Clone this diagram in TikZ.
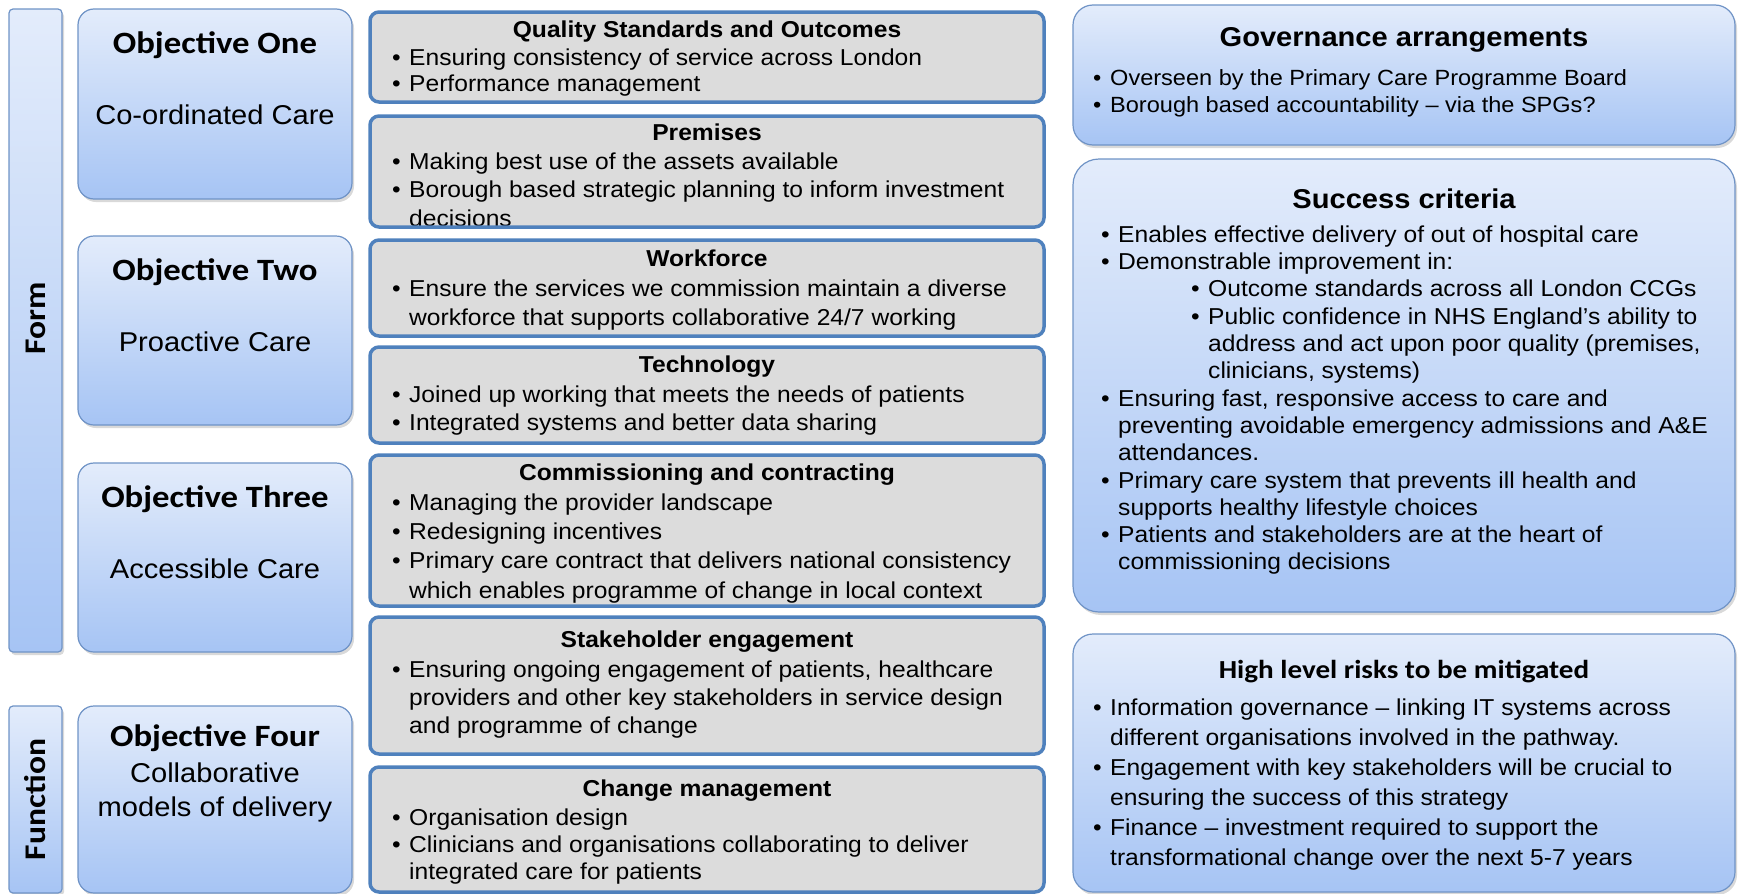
\documentclass[tikz,border=0pt]{standalone}
\usepackage{fontspec}
\setmainfont{Liberation Sans}[FakeStretch=1.07]
\newfontfamily\calfont{Carlito}[FakeStretch=1.12]
\usepackage{xcolor}
\usepackage{tikz}
\usetikzlibrary{positioning,calc,shadows}
\definecolor{gradtop}{HTML}{E3ECFB}
\definecolor{gradbot}{HTML}{A6C4F4}
\definecolor{gradedge}{HTML}{6F93C6}
\definecolor{topicfill}{HTML}{DCDCDC}
\definecolor{topicedge}{HTML}{4F81BD}
\newcommand{\itemdot}{\makebox[17pt][l]{\textbullet}}
\newcommand{\itemgap}{\hspace*{17pt}}
\newcommand{\subgap}{\hspace*{90pt}}
\tikzset{
  sidebar/.style={draw=gradedge, line width=1.2pt, rounded corners=4pt,
    top color=gradtop, bottom color=gradbot, anchor=north west,
    inner sep=0pt, outer sep=0pt,
    drop shadow={shadow xshift=2pt, shadow yshift=-3pt, opacity=0.3}},
  objbox/.style={sidebar, rounded corners=16pt},
  infobox/.style={sidebar, rounded corners=20pt},
  topicbox/.style={fill=topicfill, rounded corners=9pt, anchor=north west,
    inner sep=0pt, outer sep=0pt},
  topicline/.style={draw=topicedge, line width=3.5pt, rounded corners=9pt},
  bartxt/.style={font=\calfont\bfseries\fontsize{30}{34}\selectfont, rotate=90, inner sep=0pt},
  objhead/.style={font=\calfont\bfseries\fontsize{31}{36}\selectfont, anchor=base, inner sep=0pt},
  objsub/.style={font=\fontsize{27.2}{34}\selectfont, anchor=base, inner sep=0pt, align=center},
  topichead/.style={font=\bfseries\fontsize{23}{29}\selectfont, anchor=base, inner sep=0pt},
  topictxt/.style={font=\fontsize{23}{#1}\selectfont, anchor=north west, inner sep=0pt, align=left},
  topictxt/.default=29.3,
  infohead/.style={font=\bfseries\fontsize{27.2}{30}\selectfont, anchor=base, inner sep=0pt},
  riskhead/.style={font=\calfont\bfseries\fontsize{26}{30}\selectfont, anchor=base, inner sep=0pt},
  infotxt/.style={topictxt=#1},
  infotxt/.default=29
}
\begin{document}
\begin{tikzpicture}[x=1pt,y=-1pt]
  \useasboundingbox (0,0) rectangle (1738,894);

  % side bars
  \node[sidebar, minimum width=53pt, minimum height=643pt] (form) at (9,9) {};
  \node[sidebar, minimum width=53pt, minimum height=187pt] (func) at (9,706) {};
  \node[bartxt] (formtxt) at ($(form.center)+(0,-12)$) {Form};
  \node[bartxt] (functxt) at (func.center) {Function};

  % objectives
  \node[objbox, minimum width=274pt, minimum height=190pt] (obj1) at (78,9) {};
  \node[objbox, minimum width=274pt, minimum height=189pt] (obj2) at (78,236) {};
  \node[objbox, minimum width=274pt, minimum height=189pt] (obj3) at (78,463) {};
  \node[objbox, minimum width=274pt, minimum height=187pt] (obj4) at (78,706) {};

  \node[objhead] (obj1h) at ($(obj1.north)+(0,44)$) {Objective One};
  \node[objsub] (obj1s) at ($(obj1.north)+(0,115)$) {Co-ordinated Care};
  \node[objhead] (obj2h) at ($(obj2.north)+(0,44)$) {Objective Two};
  \node[objsub] (obj2s) at ($(obj2.north)+(0,115)$) {Proactive Care};
  \node[objhead] (obj3h) at ($(obj3.north)+(0,44)$) {Objective Three};
  \node[objsub] (obj3s) at ($(obj3.north)+(0,115)$) {Accessible Care};
  \node[objhead] (obj4h) at ($(obj4.north)+(0,40)$) {Objective Four};
  \node[objsub, anchor=north] (obj4s) at ($(obj4.north)+(0,57)$) {Collaborative\\models of delivery};

  % topic boxes
  \node[topicbox, minimum width=674pt, minimum height=90pt] (qso) at (370,12) {};
  \node[topicbox, minimum width=674pt, minimum height=111pt] (prem) at (370,116) {};
  \node[topicbox, minimum width=674pt, minimum height=96pt] (work) at (370,240) {};
  \node[topicbox, minimum width=674pt, minimum height=96pt] (tech) at (370,347) {};
  \node[topicbox, minimum width=674pt, minimum height=151pt] (comm) at (370,455) {};
  \node[topicbox, minimum width=674pt, minimum height=137pt] (stake) at (370,617) {};
  \node[topicbox, minimum width=674pt, minimum height=125pt] (change) at (370,767) {};

  \node[topichead] (qsoh) at ($(qso.north)+(0,25)$) {Quality Standards and Outcomes};
  \node[topictxt=26.5] (qsot) at ($(qso.north west)+(22,36.5)$)
    {\itemdot Ensuring consistency of service across London\\
     \itemdot Performance management};

  \node[topichead] (premh) at ($(prem.north)+(0,24)$) {Premises};
  \node[topictxt=28.5] (premt) at ($(prem.north west)+(22,36.5)$)
    {\itemdot Making best use of the assets available\\
     \itemdot Borough based strategic planning to inform investment\\
     \itemgap decisions};

  \node[topichead] (workh) at ($(work.north)+(0,26)$) {Workforce};
  \node[topictxt=28.5] (workt) at ($(work.north west)+(22,40)$)
    {\itemdot Ensure the services we commission maintain a diverse\\
     \itemgap workforce that supports collaborative 24/7 working};

  \node[topichead] (techh) at ($(tech.north)+(0,25)$) {Technology};
  \node[topictxt=28.5] (techt) at ($(tech.north west)+(22,38.5)$)
    {\itemdot Joined up working that meets the needs of patients\\
     \itemdot Integrated systems and better data sharing};

  \node[topichead] (commh) at ($(comm.north)+(0,25)$) {Commissioning and contracting};
  \node[topictxt] (commt) at ($(comm.north west)+(22,38.5)$)
    {\itemdot Managing the provider landscape\\
     \itemdot Redesigning incentives\\
     \itemdot Primary care contract that delivers national consistency\\
     \itemgap which enables programme of change in local context};

  \node[topichead] (stakeh) at ($(stake.north)+(0,30)$) {Stakeholder engagement};
  \node[topictxt=28] (staket) at ($(stake.north west)+(22,43.5)$)
    {\itemdot Ensuring ongoing engagement of patients, healthcare\\
     \itemgap providers and other key stakeholders in service design\\
     \itemgap and programme of change};

  \node[topichead] (changeh) at ($(change.north)+(0,29)$) {Change management};
  \node[topictxt=27] (changet) at ($(change.north west)+(22,41.5)$)
    {\itemdot Organisation design\\
     \itemdot Clinicians and organisations collaborating to deliver\\
     \itemgap integrated care for patients};

  % blue frames go over the text
  \foreach \b in {qso,prem,work,tech,comm,stake,change}
    \draw[topicline] (\b.south west) rectangle (\b.north east);

  % right column
  \node[infobox, minimum width=662pt, minimum height=140pt] (gov) at (1073,5) {};
  \node[infobox, minimum width=662pt, minimum height=453pt, rounded corners=26pt] (succ) at (1073,159) {};
  \node[infobox, minimum width=662pt, minimum height=258pt] (risk) at (1073,634) {};

  \node[infohead] (govh) at ($(gov.north)+(0,41)$) {Governance arrangements};
  \node[infotxt=27, font=\fontsize{22}{27}\selectfont] (govt) at ($(gov.north west)+(20,64)$)
    {\itemdot Overseen by the Primary Care Programme Board\\
     \itemdot Borough based accountability – via the SPGs?};

  \node[infohead] (succh) at ($(succ.north)+(0,49)$) {Success criteria};
  \node[infotxt=27.3] (succt) at ($(succ.north west)+(28,66.5)$)
    {\itemdot Enables effective delivery of out of hospital care\\
     \itemdot Demonstrable improvement in:\\
     \subgap\itemdot Outcome standards across all London CCGs\\
     \subgap\itemdot Public confidence in NHS England’s ability to\\
     \subgap\itemgap address and act upon poor quality (premises,\\
     \subgap\itemgap clinicians, systems)\\
     \itemdot Ensuring fast, responsive access to care and\\
     \itemgap preventing avoidable emergency admissions and A\&E\\
     \itemgap attendances.\\
     \itemdot Primary care system that prevents ill health and\\
     \itemgap supports healthy lifestyle choices\\
     \itemdot Patients and stakeholders are at the heart of\\
     \itemgap commissioning decisions};

  \node[riskhead] (riskh) at ($(risk.north)+(0,44)$) {High level risks to be mitigated};
  \node[infotxt=30] (riskt) at ($(risk.north west)+(20,64.5)$)
    {\itemdot Information governance – linking IT systems across\\
     \itemgap different organisations involved in the pathway.\\
     \itemdot Engagement with key stakeholders will be crucial to\\
     \itemgap ensuring the success of this strategy\\
     \itemdot Finance – investment required to support the\\
     \itemgap transformational change over the next 5-7 years};
\end{tikzpicture}
\end{document}
